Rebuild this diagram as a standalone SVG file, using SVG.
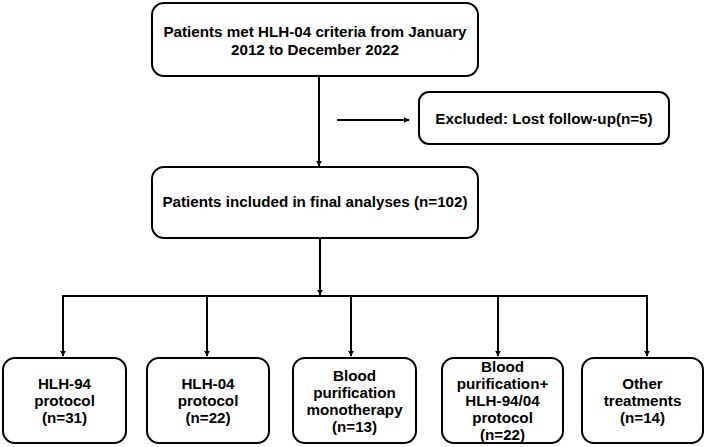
<svg xmlns="http://www.w3.org/2000/svg" width="709" height="447" viewBox="0 0 709 447">
<defs>
<marker id="ah" viewBox="0 0 10 10" refX="9" refY="5" markerWidth="6" markerHeight="6" orient="auto" markerUnits="userSpaceOnUse">
<path d="M0,0 L10,5 L0,10 z" fill="#000"/>
</marker>
<style>
.box{fill:#fff;stroke:#000;stroke-width:2}
.t{font-family:"Liberation Sans",Arial,sans-serif;font-weight:bold;font-size:15.2px;fill:#000;text-anchor:middle}
.c{fill:none;stroke:#000;stroke-width:2}
</style>
</defs>
<rect width="709" height="447" fill="#fff"/>
<g id="connectors">
<line class="c" x1="319" y1="77" x2="319" y2="166" marker-end="url(#ah)"/>
<line class="c" x1="337" y1="120" x2="409" y2="120" marker-end="url(#ah)"/>
<line class="c" x1="320" y1="238" x2="320" y2="295" marker-end="url(#ah)"/>
<polyline class="c" points="63,296 647,296"/>
<line class="c" x1="63" y1="295" x2="63" y2="356" marker-end="url(#ah)"/>
<line class="c" x1="207" y1="296" x2="207" y2="356" marker-end="url(#ah)"/>
<line class="c" x1="351" y1="296" x2="351" y2="356" marker-end="url(#ah)"/>
<line class="c" x1="498" y1="296" x2="498" y2="356" marker-end="url(#ah)"/>
<line class="c" x1="647" y1="295" x2="647" y2="356" marker-end="url(#ah)"/>
</g>
<g id="n1">
<rect class="box" x="152" y="3" width="326" height="73" rx="12"/>
<text class="t" x="315" y="37">Patients met HLH-04 criteria from January</text>
<text class="t" x="315" y="55">2012 to December 2022</text>
</g>
<g id="n2">
<rect class="box" x="419" y="92" width="250" height="52" rx="10"/>
<text class="t" x="544" y="124">Excluded: Lost follow-up(n=5)</text>
</g>
<g id="n3">
<rect class="box" x="152" y="167" width="326" height="71" rx="12"/>
<text class="t" x="315" y="207">Patients included in final analyses (n=102)</text>
</g>
<g id="n4">
<rect class="box" x="3" y="358" width="123" height="85" rx="12"/>
<text class="t" x="64.5" y="389">HLH-94</text>
<text class="t" x="64.5" y="406">protocol</text>
<text class="t" x="64.5" y="423">(n=31)</text>
</g>
<g id="n5">
<rect class="box" x="147" y="358" width="122" height="85" rx="12"/>
<text class="t" x="208" y="389">HLH-04</text>
<text class="t" x="208" y="406">protocol</text>
<text class="t" x="208" y="423">(n=22)</text>
</g>
<g id="n6">
<rect class="box" x="293" y="358" width="123" height="85" rx="12"/>
<text class="t" x="354.5" y="381">Blood</text>
<text class="t" x="354.5" y="398">purification</text>
<text class="t" x="354.5" y="415">monotherapy</text>
<text class="t" x="354.5" y="432">(n=13)</text>
</g>
<g id="n7">
<rect class="box" x="442" y="358" width="121" height="85" rx="12"/>
<text class="t" x="502.5" y="372">Blood</text>
<text class="t" x="502.5" y="389">purification+</text>
<text class="t" x="502.5" y="406">HLH-94/04</text>
<text class="t" x="502.5" y="423">protocol</text>
<text class="t" x="502.5" y="440">(n=22)</text>
</g>
<g id="n8">
<rect class="box" x="582" y="358" width="121" height="85" rx="12"/>
<text class="t" x="642.5" y="389">Other</text>
<text class="t" x="642.5" y="406">treatments</text>
<text class="t" x="642.5" y="423">(n=14)</text>
</g>
</svg>
